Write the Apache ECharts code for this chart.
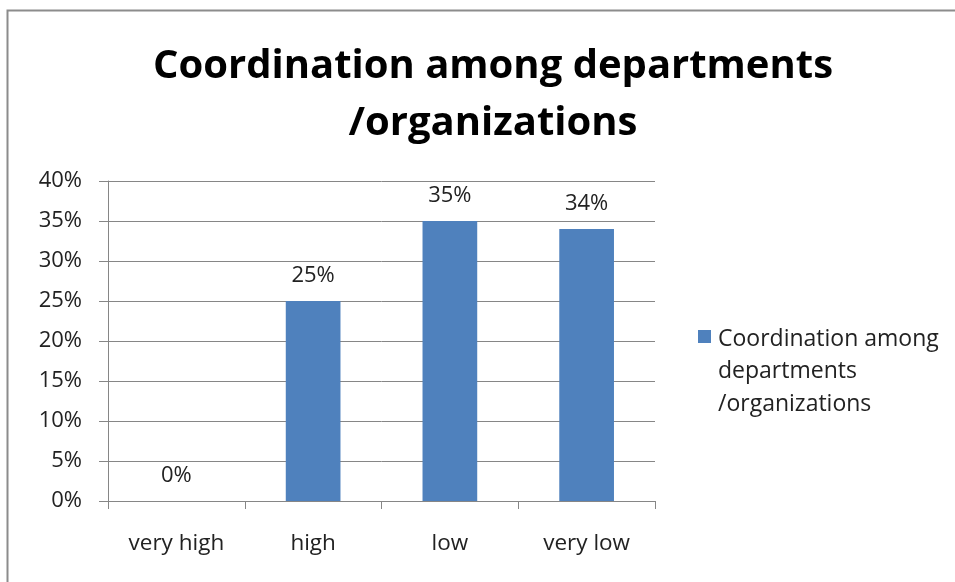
<!DOCTYPE html>
<html><head><meta charset="utf-8">
<script src="https://cdn.jsdelivr.net/npm/echarts@6/dist/echarts.min.js"></script>
<style>html,body{margin:0;padding:0;background:#fff}#c{width:955px;height:582px}</style>
</head><body><div id="c"></div>
<script>
const titleText = 'Coordination among departments\n/organizations';
const seriesName = 'Coordination among\ndepartments\n/organizations';
const categories = ['very high', 'high', 'low', 'very low'];
const values = [0, 25, 35, 34];
const yTicks = [0, 5, 10, 15, 20, 25, 30, 35, 40];

const font = 'Open Sans';
const barColor = '#4F81BD';
const chart = echarts.init(document.getElementById('c'));
chart.setOption({
  animation: false,
  backgroundColor: '#fff',
  graphic: [
    {type: 'rect', shape: {x: 7.5, y: 10.5, width: 1000, height: 1000},
     style: {fill: 'none', stroke: '#8c8c8c', lineWidth: 2}, silent: true, z: -1},
    {type: 'rect', shape: {x: 698, y: 330, width: 13, height: 13},
     style: {fill: barColor}, silent: true},
    {type: 'text', x: 718, y: 323,
     style: {text: seriesName, fontFamily: font, fontSize: 23, lineHeight: 32.5, fill: '#222'}, silent: true}
  ],
  title: {
    text: titleText, left: 488, top: 33, textAlign: 'center',
    textStyle: {fontFamily: font, fontWeight: 'bold', fontSize: 40, lineHeight: 57, color: '#000'}
  },
  grid: {left: 108, top: 181, right: 300, bottom: 81, containLabel: false},
  xAxis: {
    type: 'category', data: categories,
    axisLine: {lineStyle: {color: '#868686', width: 1}},
    axisTick: {show: true, length: 8, lineStyle: {color: '#868686'}},
    axisLabel: {fontFamily: font, fontSize: 22.5, color: '#222', margin: 31}
  },
  yAxis: {
    type: 'value', min: 0, max: 40, interval: 5,
    axisLine: {show: true, lineStyle: {color: '#868686'}},
    axisTick: {show: true, length: 9, lineStyle: {color: '#868686'}},
    splitLine: {lineStyle: {color: '#868686', width: 1}},
    axisLabel: {fontFamily: font, fontSize: 22, color: '#222', margin: 26, formatter: v => v + '%'}
  },
  series: [{
    name: seriesName, type: 'bar', data: values, barWidth: '40%',
    itemStyle: {color: barColor},
    label: {show: true, position: 'top', distance: 14, formatter: p => p.value + '%',
      fontFamily: font, fontSize: 22, color: '#222'}
  }]
});
</script></body></html>
